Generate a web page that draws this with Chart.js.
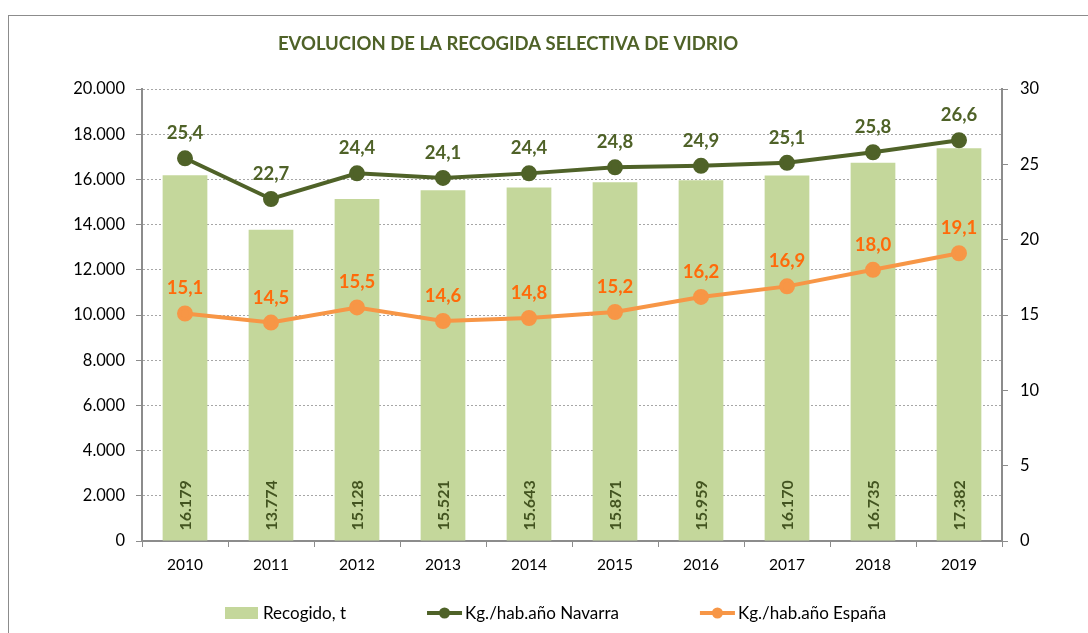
<!DOCTYPE html>
<html>
<head>
<meta charset="utf-8">
<script src="https://cdn.jsdelivr.net/npm/chart.js@4"></script>
<style>
  html, body { margin: 0; padding: 0; background: #fff; }
  #wrap { width: 1088px; height: 633px; position: relative; }
</style>
</head>
<body>
<div id="wrap"><canvas id="myChart"></canvas></div>
<script>
// datos de la grafica
const years = ['2010', '2011', '2012', '2013', '2014', '2015', '2016', '2017', '2018', '2019'];
const recogido = [16179, 13774, 15128, 15521, 15643, 15871, 15959, 16170, 16735, 17382];
const navarra = [25.4, 22.7, 24.4, 24.1, 24.4, 24.8, 24.9, 25.1, 25.8, 26.6];
const espana = [15.1, 14.5, 15.5, 14.6, 14.8, 15.2, 16.2, 16.9, 18.0, 19.1];
const titulo = 'EVOLUCION DE LA RECOGIDA SELECTIVA DE VIDRIO';

const FONT = 'Lato, "Open Sans", sans-serif';

// 16179 -> 16.179 (separador de miles con punto)
function miles(v) {
    return String(Math.round(v)).replace(/\B(?=(\d{3})+(?!\d))/g, '.');
}
function decimal(v) {
    return v.toFixed(1).replace('.', ',');
}

// marco, titulo, etiquetas y leyenda
const extras = {
    id: 'extras',
    beforeDraw(chart) {
        const c = chart.ctx;
        c.save();
        c.strokeStyle = '#8c8c8c';
        c.lineWidth = 1;
        c.strokeRect(8.5, 15.5, 1200, 700);
        c.restore();
    },
    afterDatasetsDraw(chart) {
        const c = chart.ctx;
        c.save();
        // etiquetas de barras (verticales)
        const barMeta = chart.getDatasetMeta(0);
        barMeta.data.forEach((bar, i) => {
            c.save();
            c.translate(bar.x, bar.base - 10);
            c.rotate(-Math.PI / 2);
            c.font = 'bold 16px ' + FONT;
            c.fillStyle = '#435420';
            c.textAlign = 'left';
            c.textBaseline = 'middle';
            c.fillText(miles(recogido[i]), 0, 1);
            c.restore();
        });
        // etiquetas de lineas
        [[1, navarra, '#4F6228'], [2, espana, '#FF6A0A']].forEach(([idx, vals, col]) => {
            const meta = chart.getDatasetMeta(idx);
            meta.data.forEach((pt, i) => {
                c.font = 'bold 18.5px ' + FONT;
                c.fillStyle = col;
                c.textAlign = 'center';
                c.textBaseline = 'middle';
                c.fillText(decimal(vals[i]), pt.x, pt.y - 25);
            });
        });
        c.restore();
    },
    afterDraw(chart) {
        const c = chart.ctx;
        c.save();
        // titulo
        c.font = 'bold 18.5px ' + FONT;
        c.fillStyle = '#4F6228';
        c.textAlign = 'center';
        c.textBaseline = 'middle';
        c.fillText(titulo, 508, 44);

        // leyenda
        const y = 613;
        c.font = '17px ' + FONT;
        c.textBaseline = 'middle';
        c.textAlign = 'left';
        let x = 225;
        chart.data.datasets.forEach((ds, i) => {
            if (i === 0) {
                c.fillStyle = ds.backgroundColor;
                c.fillRect(x, y - 6, 33, 12);
            } else {
                c.strokeStyle = ds.borderColor;
                c.lineWidth = 4;
                c.beginPath();
                c.moveTo(x, y);
                c.lineTo(x + 35, y);
                c.stroke();
                c.fillStyle = ds.borderColor;
                c.beginPath();
                c.arc(x + 17.5, y, 5.5, 0, Math.PI * 2);
                c.fill();
            }
            x += 38;
            c.fillStyle = '#000';
            c.fillText(ds.label, x, y + 1);
            x += c.measureText(ds.label).width + 81;
        });
        c.restore();
    }
};

const ctx = document.getElementById('myChart');
new Chart(ctx, {
    type: 'bar',
    data: {
        labels: years,
        datasets: [{
            label: 'Recogido, t',
            data: recogido,
            backgroundColor: '#C4D79B',
            yAxisID: 'y',
            order: 2,
            categoryPercentage: 1,
            barPercentage: 0.52
        }, {
            type: 'line',
            label: 'Kg./hab.año Navarra',
            data: navarra,
            borderColor: '#4F6228',
            backgroundColor: '#4F6228',
            borderWidth: 4,
            pointRadius: 6,
            pointHoverRadius: 6,
            yAxisID: 'y2',
            order: 1
        }, {
            type: 'line',
            label: 'Kg./hab.año España',
            data: espana,
            borderColor: '#F79646',
            backgroundColor: '#F79646',
            borderWidth: 4,
            pointRadius: 6,
            pointHoverRadius: 6,
            yAxisID: 'y2',
            order: 0
        }]
    },
    options: {
        responsive: true,
        maintainAspectRatio: false,
        animation: false,
        layout: { padding: { top: 89, bottom: 42, left: 0, right: 0 } },
        plugins: {
            legend: { display: false },
            title: { display: false },
            tooltip: { enabled: false }
        },
        scales: {
            x: {
                offset: true,
                grid: { offset: true, drawOnChartArea: false, drawTicks: true, tickLength: 6, tickColor: '#8c8c8c' },
                border: { color: '#8c8c8c', width: 2 },
                ticks: { color: '#000', font: { family: FONT, size: 15.5 }, padding: 9, maxRotation: 0 },
                afterFit(scale) { scale.height = 50; }
            },
            y: {
                position: 'left',
                min: 0,
                max: 20000,
                grid: { color: '#a6a6a6', lineWidth: 1, tickLength: 6, tickColor: '#8c8c8c', tickBorderDash: [] },
                border: { color: '#8c8c8c', width: 2, dash: [2, 2] },
                ticks: {
                    stepSize: 2000,
                    color: '#000',
                    font: { family: FONT, size: 16.5 },
                    padding: 11,
                    callback: v => miles(v)
                },
                afterFit(scale) { scale.width = 142; }
            },
            y2: {
                position: 'right',
                min: 0,
                max: 30,
                grid: { drawOnChartArea: false, tickLength: 6, tickColor: '#8c8c8c' },
                border: { color: '#8c8c8c', width: 2 },
                ticks: { stepSize: 5, color: '#000', font: { family: FONT, size: 16.5 }, padding: 12 },
                afterFit(scale) { scale.width = 86; }
            }
        }
    },
    plugins: [extras]
});
</script>
</body>
</html>
